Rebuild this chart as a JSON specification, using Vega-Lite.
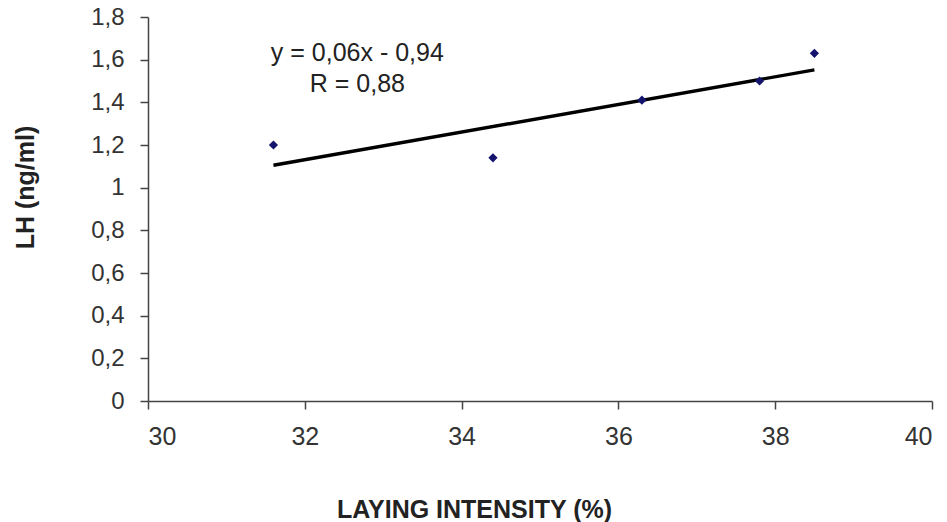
{
  "$schema": "https://vega.github.io/schema/vega-lite/v6.json",
  "width": 784,
  "height": 384,
  "autosize": {"type": "none"},
  "padding": {"left": 148, "top": 17, "right": 15, "bottom": 121},
  "background": "white",
  "config": {
    "view": {"stroke": null},
    "font": "Liberation Sans",
    "axis": {
      "grid": false,
      "domainColor": "#444",
      "tickColor": "#444",
      "labelColor": "#333",
      "titleColor": "#222",
      "labelFont": "Liberation Sans",
      "titleFont": "Liberation Sans",
      "titleFontSize": 25,
      "titleFontWeight": "bold",
      "tickSize": 8,
      "domainWidth": 1.5,
      "tickWidth": 1.5
    }
  },
  "datasets": {
    "points": [
      {"x": 31.6, "y": 1.2},
      {"x": 34.4, "y": 1.14},
      {"x": 36.3, "y": 1.41},
      {"x": 37.8, "y": 1.5},
      {"x": 38.5, "y": 1.63}
    ],
    "trend": [
      {"x": 31.6, "y": 1.105},
      {"x": 38.5, "y": 1.552}
    ],
    "labels": [
      {"x": 32.67, "y": 1.63, "text": "y = 0,06x - 0,94"},
      {"x": 32.67, "y": 1.485, "text": "R = 0,88"}
    ]
  },
  "layer": [
    {
      "data": {"name": "trend"},
      "mark": {"type": "line", "color": "#000", "strokeWidth": 3.4},
      "encoding": {
        "x": {
          "field": "x", "type": "quantitative",
          "scale": {"domain": [30, 40], "nice": false, "zero": false},
          "axis": {
            "values": [30, 32, 34, 36, 38, 40],
            "format": "d",
            "labelFontSize": 25,
            "title": "LAYING INTENSITY (%)",
            "labelPadding": 15,
            "titleX": 326,
            "titleY": 116,
            "titleBaseline": "alphabetic"
          }
        },
        "y": {
          "field": "y", "type": "quantitative",
          "scale": {"domain": [0, 1.8], "nice": false},
          "axis": {
            "values": [0, 0.2, 0.4, 0.6, 0.8, 1, 1.2, 1.4, 1.6, 1.8],
            "format": ".1~f",
            "labelExpr": "replace(datum.label, '.', ',')",
            "labelFontSize": 24,
            "title": "LH (ng/ml)",
            "labelPadding": 16,
            "titleX": -123,
            "titleY": 170,
            "titleBaseline": "middle"
          }
        }
      }
    },
    {
      "data": {"name": "points"},
      "mark": {"type": "point", "shape": "diamond", "filled": true, "color": "#14146e", "size": 85, "opacity": 1},
      "encoding": {
        "x": {"field": "x", "type": "quantitative"},
        "y": {"field": "y", "type": "quantitative"}
      }
    },
    {
      "data": {"name": "labels"},
      "mark": {"type": "text", "fontSize": 25, "color": "#222", "align": "center", "baseline": "middle", "font": "Liberation Sans"},
      "encoding": {
        "x": {"field": "x", "type": "quantitative"},
        "y": {"field": "y", "type": "quantitative"},
        "text": {"field": "text"}
      }
    }
  ]
}
